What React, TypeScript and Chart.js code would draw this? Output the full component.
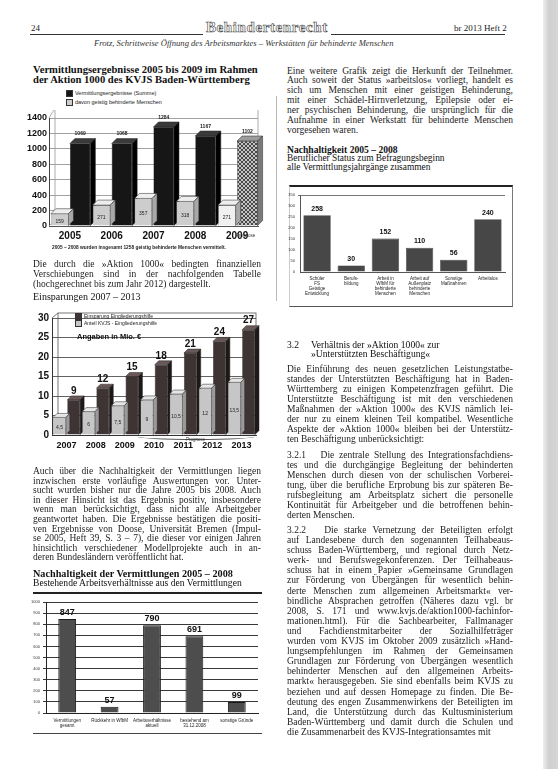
import React, { useEffect, useLayoutEffect, useRef } from "react";
import { Chart, registerables } from "chart.js";

Chart.register(...registerables);

// ---------- DATA ----------
const years1 = ["2005", "2006", "2007", "2008", "2009"];
const total1 = [1069, 1068, 1284, 1167, 1102];
const geistig1 = [159, 271, 357, 318, 271];
const legend1 = ["Vermittlungsergebnisse (Summe)", "davon geistig behinderte Menschen"];

const years2 = ["2007", "2008", "2009", "2010", "2011", "2012", "2013"];
const einsparung2 = [9, 12, 15, 18, 21, 24, 27];
const anteil2 = [4.5, 6, 7.5, 9, 10.5, 12, 13.5];
const legend2 = ["Einsparung Eingliederungshilfe", "Anteil KVJS - Eingliederungshilfe"];

const cats3 = [
  ["Vermittlungen", "gesamt"],
  ["Rückkehr in WfbM"],
  ["Arbeitsverhältnisse", "aktuell"],
  ["bestehend am", "31.12.2008"],
  ["sonstige Gründe"],
];
const values3 = [847, 57, 790, 691, 99];

const cats4 = [
  ["Schüler", "FS", "Geistige", "Entwicklung"],
  ["Berufs-", "bildung"],
  ["Arbeit in", "WfbM für", "behinderte", "Menschen"],
  ["Arbeit auf", "Außenplatz", "behinderte", "Menschen"],
  ["Sonstige", "Maßnahmen"],
  ["Arbeitslos"],
];
const values4 = [258, 30, 152, 110, 56, 240];

// ---------- helpers ----------
const SANS = "'Liberation Sans', Arial, sans-serif";
const SERIF = "'Liberation Serif', 'Times New Roman', serif";
const plain = (v: any) => String(v);

function hatchPattern(): CanvasPattern | string {
  const c = document.createElement("canvas");
  c.width = 4;
  c.height = 4;
  const g = c.getContext("2d");
  if (!g) return "#999";
  g.fillStyle = "#c4c4c4";
  g.fillRect(0, 0, 4, 4);
  g.strokeStyle = "#2a2a2a";
  g.lineWidth = 0.8;
  g.beginPath();
  g.moveTo(0, 0);
  g.lineTo(4, 4);
  g.moveTo(4, 0);
  g.lineTo(0, 4);
  g.stroke();
  return g.createPattern(c, "repeat") || "#999";
}

type Faces = { top: (i: number) => string; side: (i: number) => string };

function depthPlugin(d: number, faces: Faces[]) {
  return {
    id: "depth3d",
    afterDatasetDraw(chart: any, args: any) {
      const f = faces[args.index];
      if (!f) return;
      const ctx = chart.ctx;
      args.meta.data.forEach((bar: any, i: number) => {
        const p = bar.getProps(["x", "y", "base", "width"], true);
        const l = p.x - p.width / 2;
        const r = p.x + p.width / 2;
        ctx.save();
        ctx.lineWidth = 0.5;
        ctx.strokeStyle = "#222";
        ctx.fillStyle = f.top(i);
        ctx.beginPath();
        ctx.moveTo(l, p.y);
        ctx.lineTo(l + d, p.y - d);
        ctx.lineTo(r + d, p.y - d);
        ctx.lineTo(r, p.y);
        ctx.closePath();
        ctx.fill();
        ctx.stroke();
        ctx.fillStyle = f.side(i);
        ctx.beginPath();
        ctx.moveTo(r, p.y);
        ctx.lineTo(r + d, p.y - d);
        ctx.lineTo(r + d, p.base - d);
        ctx.lineTo(r, p.base);
        ctx.closePath();
        ctx.fill();
        ctx.stroke();
        ctx.restore();
      });
    },
  };
}

type LabelSpec = {
  font: string;
  color: string;
  text: (v: number) => string;
  pos: "above" | "inside";
  dy?: number;
  dx?: number;
};

function labelPlugin(specs: (LabelSpec | null)[]) {
  return {
    id: "valueLabels",
    afterDatasetsDraw(chart: any) {
      const ctx = chart.ctx;
      specs.forEach((s, di) => {
        if (!s) return;
        const meta = chart.getDatasetMeta(di);
        const data = chart.data.datasets[di].data as number[];
        meta.data.forEach((bar: any, i: number) => {
          const p = bar.getProps(["x", "y", "base", "width"], true);
          ctx.save();
          ctx.font = s.font;
          ctx.fillStyle = s.color;
          ctx.textAlign = "center";
          ctx.textBaseline = s.pos === "above" ? "bottom" : "middle";
          const y = s.pos === "above" ? p.y + (s.dy || 0) : (p.y + p.base) / 2 + (s.dy || 0);
          ctx.fillText(s.text(data[i]), p.x + (s.dx || 0), y);
          ctx.restore();
        });
      });
    },
  };
}

function framePlugin(offTop: number, color: string, width: number) {
  return {
    id: "frame",
    beforeDatasetsDraw(chart: any) {
      const a = chart.chartArea;
      const ctx = chart.ctx;
      ctx.save();
      ctx.strokeStyle = color;
      ctx.lineWidth = width;
      ctx.strokeRect(a.left + 6, a.top - offTop, a.right - a.left - 6, a.bottom - a.top + offTop - 6);
      ctx.beginPath();
      ctx.moveTo(a.left, a.bottom);
      ctx.lineTo(a.left + 6, a.bottom - 6);
      ctx.moveTo(a.left, a.top);
      ctx.lineTo(a.left + 6, a.top - offTop);
      ctx.stroke();
      ctx.restore();
    },
  };
}

function useChart(ref: React.RefObject<HTMLCanvasElement | null>, make: (c: HTMLCanvasElement) => Chart) {
  useEffect(() => {
    if (!ref.current) return;
    const ch = make(ref.current);
    return () => ch.destroy();
  }, []);
}

// ---------- charts ----------
function Chart1() {
  const ref = useRef<HTMLCanvasElement>(null);
  useChart(ref, (c) => {
    const hatch = hatchPattern();
    return new Chart(c, {
      type: "bar",
      data: {
        labels: years1,
        datasets: [
          {
            label: legend1[0],
            data: total1,
            backgroundColor: total1.map((_, i) => (i === 4 ? (hatch as any) : "#161616")),
            borderColor: "#000",
            borderWidth: 0.5,
            categoryPercentage: 0.98,
            barPercentage: 1,
            order: 1,
          },
          {
            label: legend1[1],
            data: geistig1,
            backgroundColor: geistig1.map((_, i) => (i === 4 ? "#f0f0f0" : "#cdcdcd")),
            borderColor: "#666",
            borderWidth: 0.6,
            categoryPercentage: 0.98,
            barPercentage: 0.86,
            order: 0,
          },
        ],
      },
      options: {
        animation: false,
        responsive: false,
        layout: { padding: { top: 8, right: 8, left: 0, bottom: 0 } },
        plugins: { legend: { display: false }, tooltip: { enabled: false } },
        scales: {
          x: {
            grid: { display: false, drawTicks: false },
            border: { display: true, color: "#555" },
            ticks: { font: { family: SANS, size: 10, weight: "bold" }, color: "#111", padding: 4 },
            afterFit: (s: any) => {
              s.height = 20;
            },
          },
          y: {
            min: 0,
            max: 1400,
            ticks: { stepSize: 200, font: { family: SANS, size: 9, weight: "bold" }, color: "#111", padding: 2, callback: plain },
            grid: { color: "#8a8a8a", drawTicks: false, lineWidth: 0.8 },
            border: { display: true, color: "#444" },
            afterFit: (s: any) => {
              s.width = 23;
            },
          },
        },
      },
      plugins: [
        framePlugin(10, "#9a9a9a", 0.8),
        depthPlugin(5, [
          { top: (i) => (i === 4 ? "#9d9d9d" : "#3a3a3a"), side: (i) => (i === 4 ? "#7a7a7a" : "#000") },
          { top: () => "#eeeeee", side: () => "#a8a8a8" },
        ]),
        labelPlugin([
          { font: `bold 5px ${SANS}`, color: "#222", text: (v) => String(v), pos: "above", dy: -7 },
          { font: `5px ${SANS}`, color: "#222", text: (v) => String(v), pos: "inside", dy: 2 },
        ]),
      ],
    } as any);
  });
  return <canvas ref={ref} width={240} height={136} style={{ position: "absolute", left: 26, top: 110, display: "block" }} />;
}

function Chart2() {
  const ref = useRef<HTMLCanvasElement>(null);
  useChart(ref, (c) =>
    new Chart(c, {
      type: "bar",
      data: {
        labels: years2,
        datasets: [
          {
            label: legend2[0],
            data: einsparung2,
            backgroundColor: "#3f3434",
            borderColor: "#111",
            borderWidth: 0.5,
            categoryPercentage: 0.98,
            barPercentage: 0.9,
            order: 1,
          },
          {
            label: legend2[1],
            data: anteil2,
            backgroundColor: "#c6c6c6",
            borderColor: "#777",
            borderWidth: 0.5,
            categoryPercentage: 0.98,
            barPercentage: 0.9,
            order: 0,
          },
        ],
      },
      options: {
        animation: false,
        responsive: false,
        layout: { padding: { top: 10, right: 7, left: 0, bottom: 0 } },
        plugins: { legend: { display: false }, tooltip: { enabled: false } },
        scales: {
          x: {
            grid: { display: false, drawTicks: false },
            border: { display: true, color: "#333" },
            ticks: { font: { family: SANS, size: 9, weight: "bold" }, color: "#111", padding: 5 },
            afterFit: (s: any) => {
              s.height = 21;
            },
          },
          y: {
            min: 0,
            max: 30,
            ticks: { stepSize: 5, font: { family: SANS, size: 10, weight: "bold" }, color: "#111", padding: 3, callback: plain },
            grid: { color: "#3a3a3a", drawTicks: false, lineWidth: 0.8 },
            border: { display: true, color: "#333" },
            afterFit: (s: any) => {
              s.width = 24;
            },
          },
        },
      },
      plugins: [
        framePlugin(5, "#555", 0.8),
        depthPlugin(4, [
          { top: () => "#6a5858", side: () => "#1e1818" },
          { top: () => "#e6e6e6", side: () => "#9a9a9a" },
        ]),
        labelPlugin([
          { font: `bold 10px ${SANS}`, color: "#111", text: (v) => String(v), pos: "above", dy: -4 },
          { font: `5px ${SANS}`, color: "#222", text: (v) => String(v).replace(".", ","), pos: "inside", dy: 2 },
        ]),
      ],
    } as any)
  );
  return <canvas ref={ref} width={235} height={148} style={{ position: "absolute", left: 28, top: 308, display: "block" }} />;
}

function Chart3() {
  const ref = useRef<HTMLCanvasElement>(null);
  useChart(ref, (c) =>
    new Chart(c, {
      type: "bar",
      data: {
        labels: cats3,
        datasets: [
          {
            label: "Nachhaltigkeit",
            data: values3,
            backgroundColor: "#4d4d4d",
            borderColor: "#1a1a1a",
            borderWidth: 1,
            categoryPercentage: 1,
            barPercentage: 0.42,
          },
        ],
      },
      options: {
        animation: false,
        responsive: false,
        layout: { padding: { top: 10, right: 5, left: 0, bottom: 0 } },
        plugins: { legend: { display: false }, tooltip: { enabled: false } },
        scales: {
          x: {
            grid: { display: false, drawTicks: false },
            border: { display: true, color: "#222" },
            ticks: { font: { family: SANS, size: 4.5, lineHeight: 1.1 }, color: "#222", padding: 5, maxRotation: 0, autoSkip: false },
            afterFit: (s: any) => {
              s.height = 22;
            },
          },
          y: {
            min: 0,
            max: 1000,
            ticks: { stepSize: 100, font: { family: SANS, size: 4 }, color: "#333", padding: 3, callback: plain },
            grid: { color: "#222", drawTicks: true, tickLength: 3, lineWidth: 0.9 },
            border: { display: true, color: "#222" },
            afterFit: (s: any) => {
              s.width = 16;
            },
          },
        },
      },
      plugins: [labelPlugin([{ font: `bold 9px ${SANS}`, color: "#111", text: (v) => String(v), pos: "above", dy: -2 }])],
    } as any)
  );
  return <canvas ref={ref} width={233} height={143} style={{ position: "absolute", left: 30, top: 592, display: "block" }} />;
}

function Chart4() {
  const ref = useRef<HTMLCanvasElement>(null);
  useChart(ref, (c) =>
    new Chart(c, {
      type: "bar",
      data: {
        labels: cats4,
        datasets: [
          {
            label: "Beruflicher Status",
            data: values4,
            backgroundColor: "#474747",
            borderColor: "#2a2a2a",
            borderWidth: 0.6,
            categoryPercentage: 1,
            barPercentage: 0.8,
          },
        ],
      },
      options: {
        animation: false,
        responsive: false,
        layout: { padding: { top: 9, right: 5, left: 0, bottom: 0 } },
        plugins: { legend: { display: false }, tooltip: { enabled: false } },
        scales: {
          x: {
            grid: { display: false, drawTicks: false },
            border: { display: true, color: "#555" },
            ticks: { font: { family: SANS, size: 4.5, lineHeight: 1.15 }, color: "#222", padding: 4, maxRotation: 0, autoSkip: false },
            afterFit: (s: any) => {
              s.height = 32;
            },
          },
          y: {
            min: 0,
            max: 350,
            ticks: { stepSize: 50, font: { family: SANS, size: 4 }, color: "#333", padding: 3, callback: plain },
            grid: {
              color: (ctx: any) => (ctx.tick && ctx.tick.value === 350 ? "#777" : "rgba(0,0,0,0)"),
              drawTicks: true,
              tickLength: 2,
              lineWidth: 1,
            },
            border: { display: true, color: "#555" },
            afterFit: (s: any) => {
              s.width = 12;
            },
          },
        },
      },
      plugins: [labelPlugin([{ font: `bold 7px ${SANS}`, color: "#111", text: (v) => String(v), pos: "above", dy: -3 }])],
    } as any)
  );
  return <canvas ref={ref} width={222} height={118} style={{ position: "absolute", left: 288, top: 186, display: "block" }} />;
}

// ---------- text ----------
type ParaProps = { x: number; y: number; w: number; lh: number; lines: string[]; size?: number; bold?: boolean };

function Para({ x, y, w, lh, lines, size = 9.5, bold = false }: ParaProps) {
  return (
    <div
      data-para="1"
      style={{
        position: "absolute",
        left: x,
        top: y,
        width: w,
        fontFamily: SERIF,
        fontSize: size,
        lineHeight: lh + "px",
        fontWeight: bold ? "bold" : "normal",
        color: "#1c1c1c",
      }}
    >
      {lines.map((t, i) => (
        <div key={i} style={{ whiteSpace: "nowrap", height: lh }}>
          <span data-j={i < lines.length - 1 ? String(w) : "last"} style={{ whiteSpace: "pre" }}>
            {t}
          </span>
        </div>
      ))}
    </div>
  );
}

const txtR1 = [
  "Eine weitere Grafik zeigt die Herkunft der Teilnehmer.",
  "Auch soweit der Status »arbeitslos« vorliegt, handelt es",
  "sich um Menschen mit einer geistigen Behinderung,",
  "mit einer Schädel-Hirnverletzung, Epilepsie oder ei-",
  "ner psychischen Behinderung, die ursprünglich für die",
  "Aufnahme in einer Werkstatt für behinderte Menschen",
  "vorgesehen waren.",
];
const txtR2 = [
  "Die Einführung des neuen gesetzlichen Leistungstatbe-",
  "standes der Unterstützten Beschäftigung hat in Baden-",
  "Württemberg zu einigen Kompetenzfragen geführt. Die",
  "Unterstützte Beschäftigung ist mit den verschiedenen",
  "Maßnahmen der »Aktion 1000« des KVJS nämlich lei-",
  "der nur zu einem kleinen Teil kompatibel. Wesentliche",
  "Aspekte der »Aktion 1000« bleiben bei der Unterstütz-",
  "ten Beschäftigung unberücksichtigt:",
];
const txtR3 = [
  "3.2.1   Die zentrale Stellung des Integrationsfachdiens-",
  "tes und die durchgängige Begleitung der behinderten",
  "Menschen durch diesen von der schulischen Vorberei-",
  "tung, über die berufliche Erprobung bis zur späteren Be-",
  "rufsbegleitung am Arbeitsplatz sichert die personelle",
  "Kontinuität für Arbeitgeber und die betroffenen behin-",
  "derten Menschen.",
];
const txtR4 = [
  "3.2.2   Die starke Vernetzung der Beteiligten erfolgt",
  "auf Landesebene durch den sogenannten Teilhabeaus-",
  "schuss Baden-Württemberg, und regional durch Netz-",
  "werk- und Berufswegekonferenzen. Der Teilhabeaus-",
  "schuss hat in einem Papier »Gemeinsame Grundlagen",
  "zur Förderung von Übergängen für wesentlich behin-",
  "derte Menschen zum allgemeinen Arbeitsmarkt« ver-",
  "bindliche Absprachen getroffen (Näheres dazu vgl. br",
  "2008, S. 171 und www.kvjs.de/aktion1000-fachinfor-",
  "mationen.html). Für die Sachbearbeiter, Fallmanager",
  "und Fachdienstmitarbeiter der Sozialhilfeträger",
  "wurden vom KVJS im Oktober 2009 zusätzlich »Hand-",
  "lungsempfehlungen im Rahmen der Gemeinsamen",
  "Grundlagen zur Förderung von Übergängen wesentlich",
  "behinderter Menschen auf den allgemeinen Arbeits-",
  "markt« herausgegeben. Sie sind ebenfalls beim KVJS zu",
  "beziehen und auf dessen Homepage zu finden. Die Be-",
  "deutung des engen Zusammenwirkens der Beteiligten im",
  "Land, die Unterstützung durch das Kultusministerium",
  "Baden-Württemberg und damit durch die Schulen und",
  "die Zusammenarbeit des KVJS-Integrationsamtes mit",
];
const txtL1 = [
  "Die durch die »Aktion 1000« bedingten finanziellen",
  "Verschiebungen sind in der nachfolgenden Tabelle",
  "(hochgerechnet bis zum Jahr 2012) dargestellt.",
];
const txtL2 = [
  "Auch über die Nachhaltigkeit der Vermittlungen liegen",
  "inzwischen erste vorläufige Auswertungen vor. Unter-",
  "sucht wurden bisher nur die Jahre 2005 bis 2008. Auch",
  "in dieser Hinsicht ist das Ergebnis positiv, insbesondere",
  "wenn man berücksichtigt, dass nicht alle Arbeitgeber",
  "geantwortet haben. Die Ergebnisse bestätigen die positi-",
  "ven Ergebnisse von Doose, Universität Bremen (Impul-",
  "se 2005, Heft 39, S. 3 – 7), die dieser vor einigen Jahren",
  "hinsichtlich verschiedener Modellprojekte auch in an-",
  "deren Bundesländern veröffentlicht hat.",
];

function justifyAll() {
  document.querySelectorAll("[data-para]").forEach((p) => {
    const spans = Array.from(p.querySelectorAll("span[data-j]")) as HTMLSpanElement[];
    let sum = 0;
    let cnt = 0;
    spans.forEach((s) => {
      s.style.wordSpacing = "0px";
    });
    spans.forEach((s) => {
      const j = s.dataset.j;
      const n = (s.textContent || "").split(" ").length - 1;
      if (j === "last" || !n) return;
      const W = parseFloat(j || "0");
      const w = s.getBoundingClientRect().width;
      const ws = (W - w) / n;
      s.style.wordSpacing = ws + "px";
      sum += ws;
      cnt++;
    });
    const avg = cnt ? sum / cnt : 0;
    spans.forEach((s) => {
      if (s.dataset.j === "last") s.style.wordSpacing = Math.min(0, avg) + "px";
    });
  });
}

function Abs({ x, y, children, style }: { x: number; y: number; children?: React.ReactNode; style?: React.CSSProperties }) {
  return <div style={{ position: "absolute", left: x, top: y, whiteSpace: "nowrap", ...style }}>{children}</div>;
}

function LegendBox({ color }: { color: string }) {
  return (
    <span
      style={{
        display: "inline-block",
        width: 5,
        height: 5,
        background: color,
        border: "0.5px solid #333",
        marginRight: 2,
        verticalAlign: "middle",
      }}
    />
  );
}

export default function App() {
  useLayoutEffect(() => {
    justifyAll();
    if ((document as any).fonts && (document as any).fonts.ready) {
      (document as any).fonts.ready.then(justifyAll);
    }
  }, []);

  const small: React.CSSProperties = { fontFamily: SANS, fontSize: 5.5, color: "#222", lineHeight: "9px" };

  return (
    <div style={{ position: "absolute", left: 0, top: 0, width: 558, height: 769, background: "#fff", overflow: "hidden" }}>
      {/* scan edge */}
      <div style={{ position: "absolute", left: 543, top: 0, width: 15, height: 769, background: "linear-gradient(to right, #eeeeee, #cfcfcf 40%, #d6d6d6)" }} />

      {/* header */}
      <div style={{ position: "absolute", left: 30, top: 34, width: 475, height: 1, background: "#333" }} />
      <Abs x={31} y={23} style={{ fontFamily: SERIF, fontSize: 9, color: "#222", lineHeight: "10px" }}>24</Abs>
      <Abs x={203} y={20} style={{ fontFamily: SERIF, fontSize: 15, fontWeight: "bold", color: "#fff", WebkitTextStroke: "0.6px #444", letterSpacing: "0.6px", lineHeight: "15px", background: "#fff", padding: "0 3px" } as any}>
        Behindertenrecht
      </Abs>
      <Abs x={452} y={23} style={{ fontFamily: SERIF, fontSize: 9, color: "#222", lineHeight: "10px", background: "#fff", paddingLeft: 2 }}>br 2013 Heft 2</Abs>
      <Abs x={94} y={38} style={{ fontFamily: SERIF, fontSize: 8.6, fontStyle: "italic", color: "#333", lineHeight: "10px" }}>
        Frotz, Schrittweise Öffnung des Arbeitsmarktes – Werkstätten für behinderte Menschen
      </Abs>

      {/* chart 1 */}
      <Abs x={33} y={65} style={{ fontFamily: SERIF, fontSize: 10.6, fontWeight: "bold", color: "#111", lineHeight: "10px" }}>
        Vermittlungsergebnisse 2005 bis 2009 im Rahmen
        <br />
        der Aktion 1000 des KVJS Baden-Württemberg
      </Abs>
      <Abs x={66} y={89} style={small}>
        <LegendBox color="#161616" />
        {legend1[0]}
        <br />
        <LegendBox color="#cdcdcd" />
        {legend1[1]}
      </Abs>
      <Chart1 />
      <Abs x={236} y={233} style={{ fontFamily: SANS, fontSize: 4.5, color: "#333" }}>Prognose</Abs>
      <Abs x={52} y={245} style={{ fontFamily: SANS, fontSize: 4.8, fontWeight: "bold", color: "#222", lineHeight: "6px" }}>
        2005 – 2008 wurden insgesamt 1258 geistig behinderte Menschen vermittelt.
      </Abs>
      <div style={{ position: "absolute", left: 276, top: 96, width: 1, height: 205, background: "#bbb" }} />

      <Para x={33} y={260} w={228} lh={9.8} lines={txtL1} />

      {/* chart 2 */}
      <Abs x={33} y={291} style={{ fontFamily: SERIF, fontSize: 10, color: "#111", lineHeight: "11px" }}>Einsparungen 2007 – 2013</Abs>
      <Chart2 />
      <Abs x={75} y={313} style={{ ...small, lineHeight: "6px", fontSize: 5 }}>
        <LegendBox color="#3f3434" />
        {legend2[0]}
        <br />
        <LegendBox color="#c6c6c6" />
        {legend2[1]}
      </Abs>
      <Abs x={77} y={332} style={{ fontFamily: SANS, fontSize: 7.5, fontWeight: "bold", color: "#111" }}>Angaben in Mio. €</Abs>
      <div style={{ position: "absolute", left: 137, top: 433, width: 118, height: 6, borderBottom: "0.8px solid #555", borderRadius: "0 0 50% 50%" }} />
      <Abs x={186} y={437} style={{ fontFamily: SANS, fontSize: 4.5, color: "#333" }}>Prognose</Abs>

      <Para x={33} y={467} w={228} lh={9.6} lines={txtL2} />

      {/* chart 3 */}
      <Abs x={33} y={569} style={{ fontFamily: SERIF, fontSize: 10.2, fontWeight: "bold", color: "#111", lineHeight: "10px" }}>Nachhaltigkeit der Vermittlungen 2005 – 2008</Abs>
      <Abs x={33} y={578} style={{ fontFamily: SERIF, fontSize: 9.6, color: "#111", lineHeight: "10px" }}>Bestehende Arbeitsverhältnisse aus den Vermittlungen</Abs>
      <div style={{ position: "absolute", left: 33, top: 592, width: 229, height: 1.5, background: "#222" }} />
      <Chart3 />
      <div style={{ position: "absolute", left: 33, top: 733, width: 229, height: 1, background: "#444" }} />

      {/* right column */}
      <Para x={287} y={66.5} w={226} lh={9.9} lines={txtR1} />
      <Abs x={287} y={145} style={{ fontFamily: SERIF, fontSize: 9.6, fontWeight: "bold", color: "#111", lineHeight: "9px" }}>Nachhaltigkeit 2005 – 2008</Abs>
      <Abs x={287} y={154} style={{ fontFamily: SERIF, fontSize: 9.4, color: "#111", lineHeight: "9px" }}>
        Beruflicher Status zum Befragungsbeginn
        <br />
        alle Vermittlungsjahrgänge zusammen
      </Abs>
      <div style={{ position: "absolute", left: 289, top: 185, width: 222, height: 119, borderTop: "2px solid #222", borderRight: "1px solid #777", borderBottom: "1px solid #555", borderLeft: "1px solid #ccc" }} />
      <Chart4 />

      <Abs x={287} y={340} style={{ fontFamily: SERIF, fontSize: 9.6, color: "#111", lineHeight: "9px" }}>
        3.2
      </Abs>
      <Abs x={311} y={340} style={{ fontFamily: SERIF, fontSize: 9.6, color: "#111", lineHeight: "9px" }}>
        Verhältnis der »Aktion 1000« zur
        <br />
        »Unterstützten Beschäftigung«
      </Abs>
      <Para x={287} y={364} w={226} lh={10} lines={txtR2} />
      <Para x={287} y={450} w={226} lh={10} lines={txtR3} />
      <Para x={287} y={525} w={226} lh={10.1} lines={txtR4} />
    </div>
  );
}
